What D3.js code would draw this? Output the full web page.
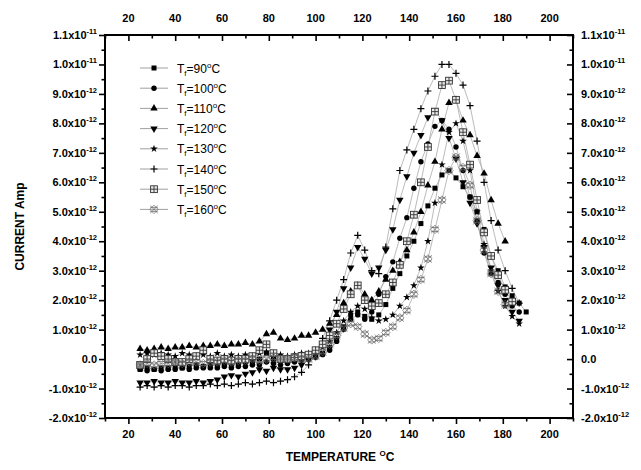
<!DOCTYPE html>
<html>
<head>
<meta charset="utf-8">
<script src="https://cdn.jsdelivr.net/npm/d3@7"></script>
<style>
  body { margin: 0; background: #fff; }
  text { font-family: "Liberation Sans", Arial, sans-serif; }
</style>
</head>
<body>
<svg width="641" height="470"></svg>
<script>
// temperature grid (deg C) and current values in units of 1e-12 A
const temps = d3.range(25, 191, 3);

const tf90 = [-0.35,-0.3,-0.35,-0.3,-0.3,-0.25,-0.3,-0.25,-0.2,-0.25,
  -0.2,-0.2,-0.15,-0.2,-0.15,-0.1,-0.1,0.0,0.2,0.0,
  -0.05,0.0,0.0,0.05,0.0,0.1,0.2,0.4,0.7,1.1,
  1.5,1.6,1.45,1.35,1.5,1.85,2.4,2.9,3.5,4.0,
  4.6,5.2,5.8,6.25,6.4,6.15,5.85,5.5,5.0,4.4,
  3.5,3.0,2.45,2.15,1.9,1.6];
const tf100 = [-0.35,-0.4,-0.35,-0.4,-0.35,-0.35,-0.3,-0.35,-0.3,-0.3,
  -0.3,-0.3,-0.25,-0.3,-0.25,-0.25,-0.2,-0.2,-0.1,-0.15,
  -0.2,-0.15,-0.1,-0.05,0.0,0.05,0.15,0.3,0.6,1.0,
  1.35,1.5,1.35,1.6,2.2,2.8,3.3,4.1,4.8,5.8,
  6.7,7.3,7.9,8.1,7.8,7.2,6.4,5.5,4.7,3.6,
  2.9,2.6,2.2,1.8,1.6,null];
const tf110 = [0.35,0.3,0.35,0.4,0.35,0.4,0.4,0.45,0.4,0.45,
  0.45,0.5,0.45,0.5,0.5,0.55,0.5,0.6,0.85,0.9,
  0.7,0.65,0.7,0.8,0.8,0.9,1.0,1.2,1.5,1.9,
  2.3,2.5,2.2,2.0,2.3,2.7,3.0,3.3,3.7,4.3,
  5.0,5.9,6.7,7.8,8.7,8.8,8.1,7.6,6.9,6.3,
  5.4,4.6,4.0,null,null,null];
const tf120 = [-0.8,-0.8,-0.75,-0.8,-0.8,-0.75,-0.8,-0.8,-0.75,-0.8,
  -0.75,-0.7,-0.6,-0.55,-0.6,-0.5,-0.45,-0.35,-0.4,-0.3,
  -0.35,-0.35,-0.3,-0.2,0.0,0.2,0.5,1.0,1.6,2.4,
  3.1,3.8,3.4,2.9,3.1,3.7,4.4,5.4,6.2,7.0,
  7.6,8.2,8.45,8.1,7.5,6.8,6.0,5.3,4.6,3.8,
  3.1,2.5,2.0,1.6,1.3,null];
const tf130 = [0.15,0.2,0.15,0.2,0.15,0.1,0.2,0.15,0.1,0.15,
  0.1,0.2,0.1,0.15,0.1,0.15,0.1,0.2,0.25,0.1,
  0.15,0.1,0.15,0.2,0.2,0.3,0.4,0.6,0.9,1.3,
  1.6,1.8,1.7,1.4,1.3,1.35,1.5,1.8,2.1,2.5,
  3.1,4.0,5.3,6.6,7.7,8.0,7.4,6.4,5.0,3.9,
  3.0,2.3,1.8,1.45,1.2,null];
const tf140 = [-0.95,-0.9,-0.95,-0.9,-0.95,-0.9,-0.9,-0.95,-0.9,-0.9,
  -0.85,-0.9,-0.85,-0.9,-0.85,-0.8,-0.85,-0.8,-0.75,-0.8,
  -0.75,-0.7,-0.6,-0.45,-0.2,0.2,0.7,1.3,2.0,2.7,
  3.6,4.2,3.7,3.0,2.9,3.8,5.1,6.4,7.1,7.8,
  8.5,9.1,9.6,10.0,10.0,9.7,9.3,8.6,7.4,6.0,
  4.7,3.7,3.0,2.4,1.9,null];
const tf150 = [-0.2,0.0,0.2,0.1,0.0,-0.1,-0.1,0.0,0.1,0.3,
  0.0,-0.05,0.0,-0.05,0.0,0.0,0.1,0.3,0.5,0.2,
  0.0,0.0,0.05,0.1,0.15,0.3,0.5,0.8,1.2,1.7,
  2.2,2.5,2.0,1.8,1.9,2.2,2.6,3.2,4.0,4.9,
  6.0,7.2,8.4,9.3,9.45,8.8,7.7,6.6,5.4,4.3,
  3.5,2.85,2.35,1.95,null,null];
const tf160 = [-0.2,-0.15,-0.2,-0.15,-0.15,-0.1,-0.15,-0.1,-0.1,-0.15,
  -0.1,-0.1,-0.05,-0.1,-0.05,-0.05,0.0,-0.05,0.0,0.05,
  0.0,0.0,0.05,0.0,0.0,0.1,0.25,0.5,0.8,1.05,
  1.2,1.1,0.85,0.65,0.7,0.9,1.1,1.4,1.65,2.2,
  2.7,3.4,4.4,5.4,6.4,6.85,6.5,5.9,4.7,3.7,
  2.9,2.3,1.85,null,null,null];

const seriesNames = ['90', '100', '110', '120', '130', '140', '150', '160'];
const seriesValues = [tf90, tf100, tf110, tf120, tf130, tf140, tf150, tf160];
const markerTypes = ['square', 'circle', 'up', 'down', 'star', 'plus', 'grid', 'hatch'];

const xTicks = d3.range(20, 201, 20);
const yTicks = d3.range(-2, 11.01, 1);

const svg = d3.select('svg');
const margin = { left: 105, right: 68, top: 35, bottom: 52 };
const width = 641, height = 470;

const x = d3.scaleLinear().domain([10, 210]).range([margin.left, width - margin.right]);
const y = d3.scaleLinear().domain([-2, 11]).range([height - margin.bottom, margin.top]);

// axes: ticks
const axisStyle = g => {
  g.select('.domain').remove();
  g.selectAll('line').attr('stroke', '#000').attr('stroke-width', 1.6);
};
const minorX = d3.range(10, 211, 20);
const minorY = d3.range(-1.5, 11, 1);

svg.append('g').attr('transform', `translate(0,${y.range()[0]})`)
  .call(d3.axisBottom(x).tickValues(xTicks).tickSize(6).tickFormat('')).call(axisStyle);
svg.append('g').attr('transform', `translate(0,${y.range()[0]})`)
  .call(d3.axisBottom(x).tickValues(minorX).tickSize(3.5).tickFormat('')).call(axisStyle);
svg.append('g').attr('transform', `translate(0,${y.range()[1]})`)
  .call(d3.axisTop(x).tickValues(xTicks).tickSize(-6).tickFormat('')).call(axisStyle);
svg.append('g').attr('transform', `translate(0,${y.range()[1]})`)
  .call(d3.axisTop(x).tickValues(minorX).tickSize(-3.5).tickFormat('')).call(axisStyle);
svg.append('g').attr('transform', `translate(${x.range()[0]},0)`)
  .call(d3.axisLeft(y).tickValues(yTicks).tickSize(6).tickFormat('')).call(axisStyle);
svg.append('g').attr('transform', `translate(${x.range()[0]},0)`)
  .call(d3.axisLeft(y).tickValues(minorY).tickSize(3.5).tickFormat('')).call(axisStyle);
svg.append('g').attr('transform', `translate(${x.range()[1]},0)`)
  .call(d3.axisRight(y).tickValues(yTicks).tickSize(-6).tickFormat('')).call(axisStyle);
svg.append('g').attr('transform', `translate(${x.range()[1]},0)`)
  .call(d3.axisRight(y).tickValues(minorY).tickSize(-3.5).tickFormat('')).call(axisStyle);

svg.append('rect')
  .attr('x', x.range()[0]).attr('y', y.range()[1])
  .attr('width', x.range()[1] - x.range()[0])
  .attr('height', y.range()[0] - y.range()[1])
  .attr('fill', 'none').attr('stroke', '#000').attr('stroke-width', 2);

// tick labels
const xLab = svg.append('g').attr('font-size', 11).attr('font-weight', 'bold').attr('text-anchor', 'middle');
xTicks.forEach(t => {
  xLab.append('text').attr('x', x(t)).attr('y', 438).text(t);
  xLab.append('text').attr('x', x(t)).attr('y', 22).text(t);
});

function yLabel(g, v, px, anchor) {
  const t = g.append('text').attr('x', px).attr('y', y(v) + 4).attr('text-anchor', anchor);
  if (v === 0) { t.text('0.0'); return; }
  const mant = v >= 10 ? (v / 10).toFixed(1) : v.toFixed(1);
  const exp = v >= 10 ? '-11' : '-12';
  t.append('tspan').text(mant + 'x10');
  t.append('tspan').attr('dy', -5).attr('font-size', 7.5).text(exp);
}
const yLabL = svg.append('g').attr('font-size', 11).attr('font-weight', 'bold');
const yLabR = svg.append('g').attr('font-size', 11).attr('font-weight', 'bold');
yTicks.forEach(v => {
  yLabel(yLabL, v, 97, 'end');
  yLabel(yLabR, v, 581, 'start');
});

// axis titles
const xt = svg.append('text').attr('x', 340).attr('y', 461).attr('text-anchor', 'middle')
  .attr('font-size', 12).attr('font-weight', 'bold');
xt.append('tspan').text('TEMPERATURE ');
xt.append('tspan').attr('dy', -5).attr('font-size', 8).text('O');
xt.append('tspan').attr('dy', 5).text('C');

svg.append('text').attr('transform', `translate(24,${y(4.5)}) rotate(-90)`)
  .attr('text-anchor', 'middle').attr('font-size', 12).attr('font-weight', 'bold')
  .text('CURRENT Amp');

// markers
function drawMarker(g, type) {
  if (type === 'square') g.append('rect').attr('x', -2.5).attr('y', -2.5).attr('width', 5).attr('height', 5).attr('fill', '#000');
  else if (type === 'circle') g.append('circle').attr('r', 2.7).attr('fill', '#000');
  else if (type === 'up') g.append('path').attr('d', d3.symbol(d3.symbolTriangle, 24)()).attr('fill', '#000');
  else if (type === 'down') g.append('path').attr('d', d3.symbol(d3.symbolTriangle, 24)()).attr('transform', 'rotate(180)').attr('fill', '#000');
  else if (type === 'star') g.append('path').attr('d', d3.symbol(d3.symbolStar, 18)()).attr('fill', '#000');
  else if (type === 'plus') g.append('path').attr('d', 'M-3.5,0H3.5M0,-3.5V3.5').attr('stroke', '#000').attr('stroke-width', 1.2);
  else if (type === 'grid') {
    g.append('rect').attr('x', -3.4).attr('y', -3.4).attr('width', 6.8).attr('height', 6.8)
      .attr('fill', '#e8e8e8').attr('stroke', '#333').attr('stroke-width', 0.9);
    g.append('path').attr('d', 'M-3.4,0H3.4M0,-3.4V3.4').attr('stroke', '#333').attr('stroke-width', 0.9);
  } else if (type === 'hatch') {
    g.append('path').attr('d', 'M-3.8,-3.8L3.8,3.8M3.8,-3.8L-3.8,3.8M0,-4.2L4.2,0L0,4.2L-4.2,0Z M-3.8,-2H3.8M-3.8,2H3.8')
      .attr('fill', 'none').attr('stroke', '#666').attr('stroke-width', 0.7);
  }
}

const line = d3.line()
  .defined(d => d[1] != null)
  .x(d => x(d[0]))
  .y(d => y(d[1]));

const plot = svg.append('g');
seriesValues.forEach(vals => {
  const pts = temps.map((t, i) => [t, vals[i]]);
  plot.append('path').datum(pts).attr('d', line)
    .attr('fill', 'none').attr('stroke', '#aaa').attr('stroke-width', 0.8);
});
seriesValues.forEach((vals, k) => {
  const pts = temps.map((t, i) => [t, vals[i]]).filter(d => d[1] != null);
  plot.selectAll(null).data(pts).enter().append('g')
    .attr('transform', d => `translate(${x(d[0])},${y(d[1])})`)
    .each(function () { drawMarker(d3.select(this), markerTypes[k]); });
});

// legend
const legend = svg.append('g');
seriesNames.forEach((name, k) => {
  const ly = 68 + k * 20.2;
  const g = legend.append('g').attr('transform', `translate(0,${ly})`);
  g.append('line').attr('x1', 140).attr('x2', 168).attr('stroke', '#888').attr('stroke-width', 0.8);
  drawMarker(g.append('g').attr('transform', 'translate(154,0)'), markerTypes[k]);
  const t = g.append('text').attr('x', 177).attr('y', 4.5).attr('font-size', 12);
  t.append('tspan').text('T');
  t.append('tspan').attr('dy', 3).attr('font-size', 8).text('f');
  t.append('tspan').attr('dy', -3).text('=' + name);
  t.append('tspan').attr('dy', -5).attr('font-size', 8).text('o');
  t.append('tspan').attr('dy', 5).text('C');
});
</script>
</body>
</html>
